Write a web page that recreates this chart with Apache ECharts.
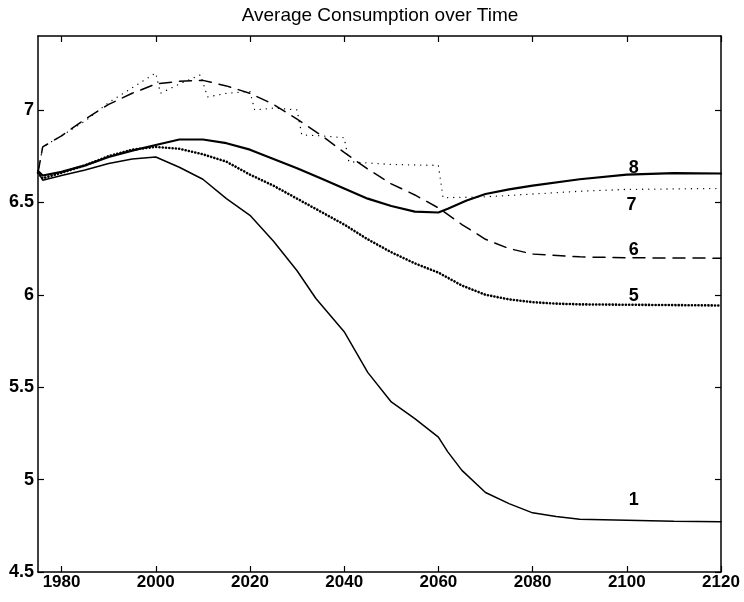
<!DOCTYPE html>
<html>
<head>
<meta charset="utf-8">
<script src="https://cdn.jsdelivr.net/npm/echarts@6/dist/echarts.min.js"></script>
<style>
  html, body { margin: 0; padding: 0; background: #fff; }
  #chart { width: 744px; height: 602px; }
</style>
</head>
<body>
<div id="chart"></div>
<script>
// data: [year, value]
var line1 = [[1975,6.665],[1976,6.62],[1980,6.645],[1985,6.675],[1990,6.71],[1995,6.735],[2000,6.745],
  [2005,6.69],[2010,6.625],[2015,6.52],[2020,6.43],[2025,6.29],[2030,6.13],[2034,5.98],[2040,5.80],
  [2045,5.58],[2050,5.42],[2055,5.33],[2060,5.23],[2062,5.15],[2065,5.05],[2070,4.93],[2075,4.87],
  [2080,4.82],[2085,4.80],[2090,4.785],[2100,4.78],[2110,4.775],[2120,4.772]];
var line5 = [[1975,6.66],[1976,6.63],[1980,6.66],[1985,6.70],[1990,6.75],[1995,6.785],[2000,6.80],
  [2005,6.79],[2010,6.76],[2015,6.72],[2020,6.65],[2025,6.59],[2030,6.52],[2035,6.45],[2040,6.38],
  [2045,6.30],[2050,6.23],[2055,6.17],[2060,6.12],[2065,6.05],[2070,6.00],[2075,5.975],[2080,5.96],
  [2085,5.952],[2090,5.948],[2100,5.946],[2120,5.942]];
var line6 = [[1975,6.66],[1976,6.80],[1980,6.86],[1985,6.95],[1990,7.03],[1995,7.09],[2000,7.14],
  [2005,7.155],[2010,7.16],[2015,7.13],[2020,7.09],[2025,7.03],[2030,6.95],[2035,6.865],[2040,6.77],
  [2045,6.68],[2050,6.60],[2055,6.54],[2060,6.47],[2065,6.38],[2070,6.30],[2075,6.25],[2080,6.22],
  [2090,6.205],[2100,6.20],[2120,6.198]];
var line7 = [[1975,6.66],[1976,6.80],[1980,6.86],[1985,6.94],[1990,7.04],[1995,7.12],[2000,7.20],
  [2001,7.09],[2005,7.14],[2009.5,7.19],[2011,7.07],[2015,7.09],[2020,7.10],[2021,7.00],[2025,7.01],
  [2030,7.00],[2031,6.865],[2035,6.86],[2040,6.85],[2041,6.72],[2050,6.705],[2060,6.70],[2061,6.525],
  [2070,6.53],[2080,6.545],[2090,6.56],[2100,6.57],[2120,6.575]];
var line8 = [[1975,6.67],[1976,6.645],[1980,6.665],[1985,6.70],[1990,6.745],[1995,6.78],[2000,6.81],
  [2005,6.84],[2010,6.84],[2015,6.82],[2020,6.785],[2025,6.735],[2030,6.685],[2035,6.63],[2040,6.575],
  [2045,6.52],[2050,6.48],[2055,6.45],[2060,6.445],[2062,6.465],[2066,6.51],[2070,6.545],[2075,6.57],
  [2080,6.59],[2090,6.625],[2100,6.65],[2110,6.658],[2120,6.656]];

var curveLabels = [["8",2101.5,6.686],["7",2101,6.488],["6",2101.5,6.242],["5",2101.5,5.994],["1",2101.5,4.892]];
var xTicks = [1980,2000,2020,2040,2060,2080,2100,2120];
var yTicks = [4.5,5,5.5,6,6.5,7];

var FONT = "Liberation Sans";
var chart = echarts.init(document.getElementById("chart"));

function mkLine(data, width, type) {
  return {
    type: "line", data: data, showSymbol: false, symbol: "none", smooth: false,
    xAxisIndex: 0, yAxisIndex: 0, animation: false,
    lineStyle: { color: "#000", width: width, type: type, cap: "round" }
  };
}

var axisLine = { show: true, onZero: false, lineStyle: { color: "#000", width: 1.5 } };
var tick = { inside: true, length: 6, lineStyle: { color: "#000", width: 1.2 } };

var option = {
  backgroundColor: "#fff",
  animation: false,
  title: {
    text: "Average Consumption over Time",
    left: 380, top: 6, padding: 0, textAlign: "center",
    textStyle: { fontFamily: FONT, fontSize: 19, fontWeight: "normal", color: "#000" }
  },
  grid: { left: 38, right: 23, top: 36, bottom: 30, containLabel: false },
  xAxis: [
    { type: "value", min: 1975, max: 2120, position: "bottom",
      axisLine: axisLine, splitLine: { show: false },
      axisTick: Object.assign({ customValues: xTicks }, tick),
      axisLabel: { customValues: xTicks, fontFamily: FONT, fontSize: 17, fontWeight: "bold", color: "#000", margin: 2,
        formatter: function (v) { return String(v); } } },
    { type: "value", min: 1975, max: 2120, position: "top",
      axisLine: axisLine, splitLine: { show: false },
      axisTick: Object.assign({ customValues: xTicks }, tick),
      axisLabel: { show: false } }
  ],
  yAxis: [
    { type: "value", min: 4.5, max: 7.4, position: "left",
      axisLine: axisLine, splitLine: { show: false },
      axisTick: Object.assign({ customValues: yTicks }, tick),
      axisLabel: { customValues: yTicks, fontFamily: FONT, fontSize: 18, fontWeight: "bold", color: "#000", margin: 4 } },
    { type: "value", min: 4.5, max: 7.4, position: "right",
      axisLine: axisLine, splitLine: { show: false },
      axisTick: Object.assign({ customValues: yTicks }, tick),
      axisLabel: { show: false } }
  ],
  series: [
    mkLine(line1, 1.5, "solid"),
    mkLine(line5, 2.6, [0.1, 3.2]),
    mkLine(line6, 1.5, [12, 8]),
    mkLine(line7, 1.3, [0.1, 6]),
    mkLine(line8, 2.2, "solid"),
    {
      type: "scatter", symbolSize: 0, animation: false, silent: true,
      itemStyle: { opacity: 1 },
      data: curveLabels.map(function (d) { return { value: [d[1], d[2]], name: d[0] }; }),
      label: { show: true, position: "inside", formatter: "{b}",
        fontFamily: FONT, fontSize: 18, fontWeight: "bold", color: "#000" }
    }
  ]
};
chart.setOption(option);
</script>
</body>
</html>
